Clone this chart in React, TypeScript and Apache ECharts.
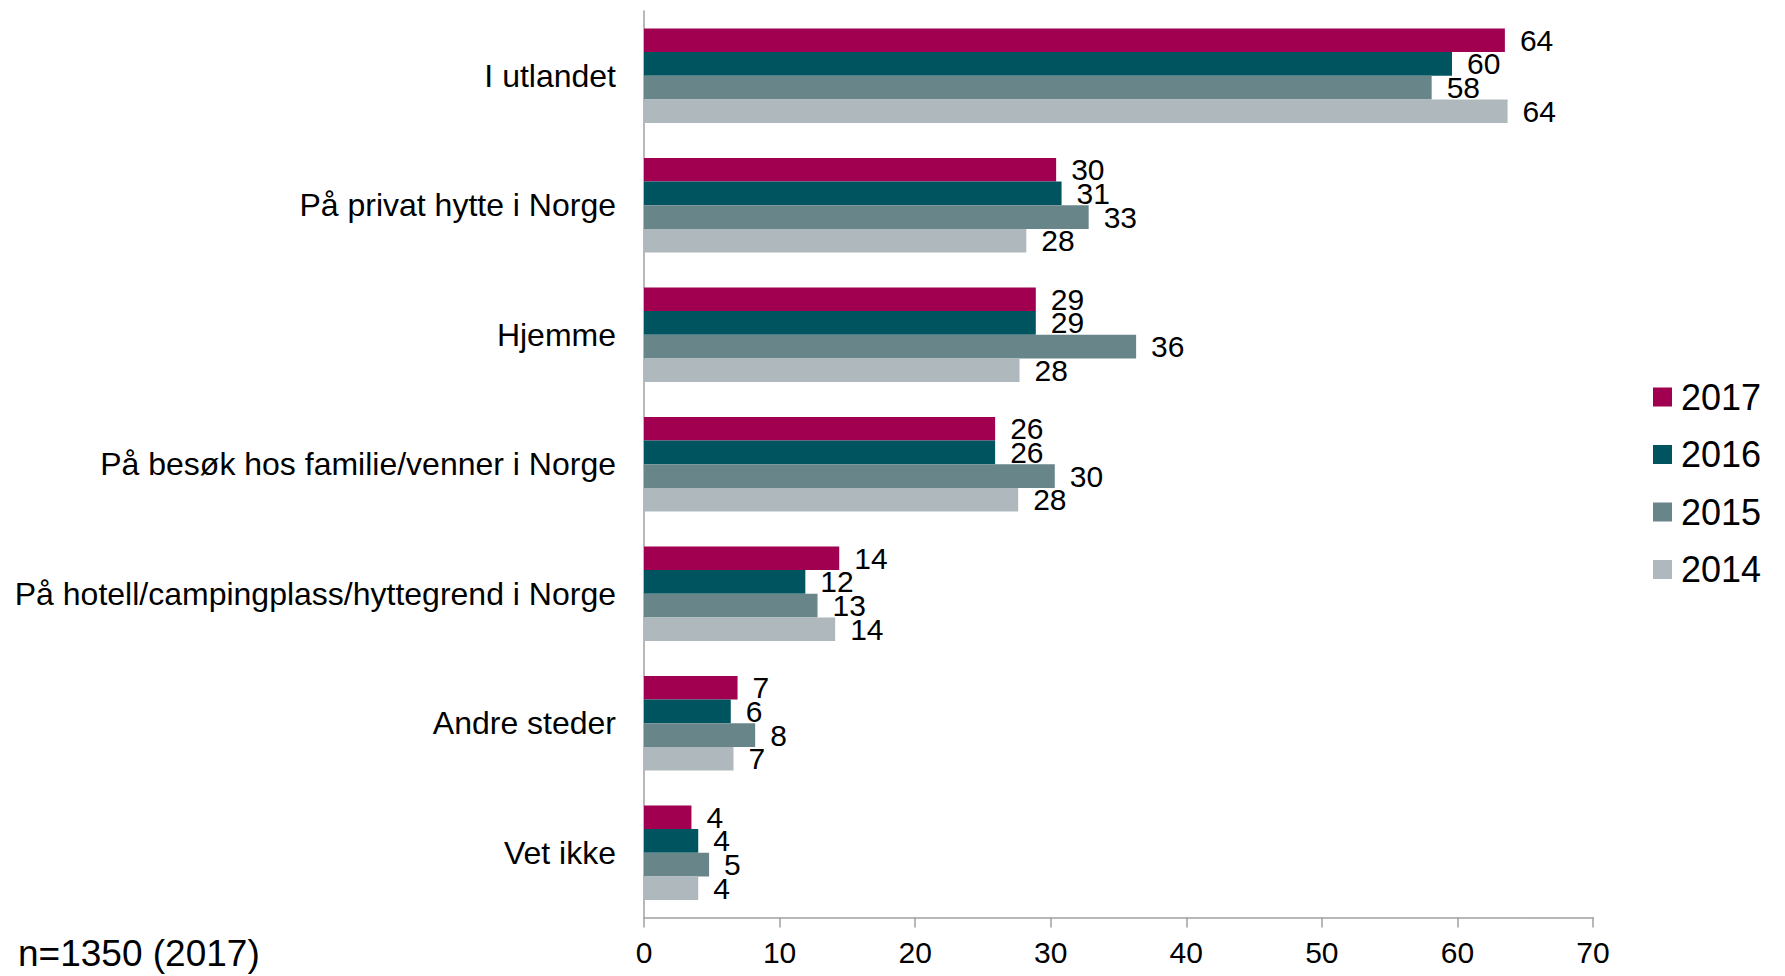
import React, { useEffect, useRef } from "react";
import * as echarts from "echarts";

const categories = [
  "I utlandet",
  "På privat hytte i Norge",
  "Hjemme",
  "På besøk hos familie/venner i Norge",
  "På hotell/campingplass/hyttegrend i Norge",
  "Andre steder",
  "Vet ikke",
];
const years = ["2017", "2016", "2015", "2014"];
const v2017 = [63.5, 30.4, 28.9, 25.9, 14.4, 6.9, 3.5];
const v2016 = [59.6, 30.8, 28.9, 25.9, 11.9, 6.4, 4.0];
const v2015 = [58.1, 32.8, 36.3, 30.3, 12.8, 8.2, 4.8];
const v2014 = [63.7, 28.2, 27.7, 27.6, 14.1, 6.6, 4.0];
const xTicks = [0, 10, 20, 30, 40, 50, 60, 70];
const colors = ["#A0004F", "#00545F", "#688589", "#AFB9BD"];
const note = "n=1350 (2017)";

const FONT = "'Liberation Sans', Arial, sans-serif";

export default function App() {
  const ref = useRef<HTMLDivElement>(null);
  useEffect(() => {
    if (!ref.current) return;
    const chart = echarts.init(ref.current, undefined, { renderer: "svg" });
    const values = [v2017, v2016, v2015, v2014];
    chart.setOption({
      animation: false,
      textStyle: { fontFamily: FONT },
      grid: { left: 644, right: 192, top: 11, bottom: 58.5, containLabel: false },
      legend: {
        orient: "vertical",
        left: 1648,
        top: 374,
        itemWidth: 19,
        itemHeight: 19,
        itemGap: 21.5,
        icon: "rect",
        data: years,
        textStyle: { fontSize: 36, color: "#000", fontFamily: FONT, lineHeight: 36, padding: [0, 0, 0, 4] },
      },
      xAxis: {
        type: "value",
        min: xTicks[0],
        max: xTicks[xTicks.length - 1],
        interval: 10,
        splitLine: { show: false },
        axisLine: { show: true, lineStyle: { color: "#A0A0A0", width: 1.5 } },
        axisTick: { show: true, length: 10, lineStyle: { color: "#A0A0A0", width: 1.5 } },
        axisLabel: { fontSize: 30, color: "#000", margin: 20, fontFamily: FONT },
      },
      yAxis: {
        type: "category",
        data: categories,
        inverse: true,
        axisLine: { show: true, lineStyle: { color: "#A0A0A0", width: 1.5 } },
        axisTick: { show: false },
        axisLabel: { fontSize: 32, color: "#000", margin: 28, fontFamily: FONT },
      },
      graphic: [
        {
          type: "text",
          left: 18,
          top: 935,
          style: { text: note, fontSize: 37, fill: "#000", fontFamily: FONT },
        },
      ],
      series: years.map((y, i) => ({
        name: y,
        type: "bar",
        data: values[i],
        barCategoryGap: "27%",
        barGap: "0%",
        itemStyle: { color: colors[i] },
        label: {
          show: true,
          position: "right",
          distance: 15,
          fontSize: 30,
          color: "#000",
          fontFamily: FONT,
          formatter: (p: any) => String(Math.round(p.value)),
        },
      })),
    });
    return () => chart.dispose();
  }, []);
  return (
    <div
      ref={ref}
      style={{ position: "fixed", left: 0, top: 0, width: 1785, height: 976, background: "#fff" }}
    />
  );
}
